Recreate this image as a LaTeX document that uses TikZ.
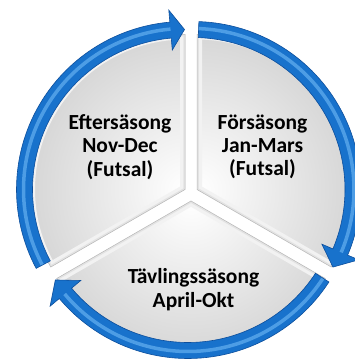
\documentclass[tikz,border=0pt]{standalone}
\usepackage{fontspec}
\setmainfont{Carlito}
\usetikzlibrary{calc}
\definecolor{ringblue}{RGB}{24,114,204}
\definecolor{ringlight}{RGB}{95,172,238}
\definecolor{ringdark}{RGB}{12,78,156}
\newcommand\drawsector[3]{%
  \begin{scope}
    \clip (#1) -- ($(#1)+(#2:155pt)$) arc[start angle=#2,end angle=#3,radius=155pt] -- cycle;
    \shade[inner color=white, outer color=black!17] (#1) circle[radius=165pt];
    \draw[line width=10pt, black!5] (#1) -- ($(#1)+(#2:155pt)$) arc[start angle=#2,end angle=#3,radius=155pt] -- cycle;
    \draw[line width=3.5pt, black!11] (#1) -- ($(#1)+(#2:155pt)$) arc[start angle=#2,end angle=#3,radius=155pt] -- cycle;
  \end{scope}
  \draw[black!28, line width=0.5pt] (#1) -- ($(#1)+(#2:155pt)$) arc[start angle=#2,end angle=#3,radius=155pt] -- cycle;
}
\newcommand\drawarrow[4]{%
  \fill[ringblue] ($(#1)+(#2:168pt)$) arc[start angle=#2,end angle=#3,radius=168pt]
    -- ($(#1)+(#3:180pt)$) -- ($(#1)+(#4:160pt)$) -- ($(#1)+(#3:140pt)$)
    -- ($(#1)+(#3:152pt)$) arc[start angle=#3,end angle=#2,radius=152pt] -- cycle;
  \draw[ringlight, line width=3.5pt, opacity=.75] ($(#1)+(#2:161pt)$) arc[start angle=#2,end angle=#3,radius=161pt];
  \draw[ringdark, line width=0.6pt] ($(#1)+(#2:168pt)$) arc[start angle=#2,end angle=#3,radius=168pt]
    -- ($(#1)+(#3:180pt)$) -- ($(#1)+(#4:160pt)$) -- ($(#1)+(#3:140pt)$)
    -- ($(#1)+(#3:152pt)$) arc[start angle=#3,end angle=#2,radius=152pt] -- cycle;
}
\tikzset{seasontext/.style={font=\fontsize{21.5}{23.3}\selectfont\bfseries, align=center, inner sep=0pt, text=black}}
\begin{document}
\begin{tikzpicture}[x=1pt,y=1pt]
\useasboundingbox (0,0) rectangle (355,362);
\fill[white] (0,0) rectangle (355,362);
% sector centres
\coordinate (sL) at (185,172.5);
\coordinate (sR) at (197,172.5);
\coordinate (sB) at (191,161);
% arrow centres
\coordinate (aL) at (184.5,172.5);
\coordinate (aR) at (193,172.5);
\coordinate (aB) at (188,171.5);
\drawsector{sL}{90}{210}
\drawsector{sR}{-30}{90}
\drawsector{sB}{210}{330}
\drawarrow{aR}{88}{-23}{-29}
\drawarrow{aB}{-33}{-140}{-146}
\drawarrow{aL}{208}{95}{90}
\node[seasontext] (efter) at (120,215) {Eftersäsong\\Nov-Dec\\(Futsal)};
\node[seasontext] (fore) at (262.5,215) {Försäsong\\Jan-Mars\\(Futsal)};
\node[seasontext] (tavling) at (193.5,72.5) {Tävlingssäsong\\April-Okt};
\end{tikzpicture}
\end{document}
